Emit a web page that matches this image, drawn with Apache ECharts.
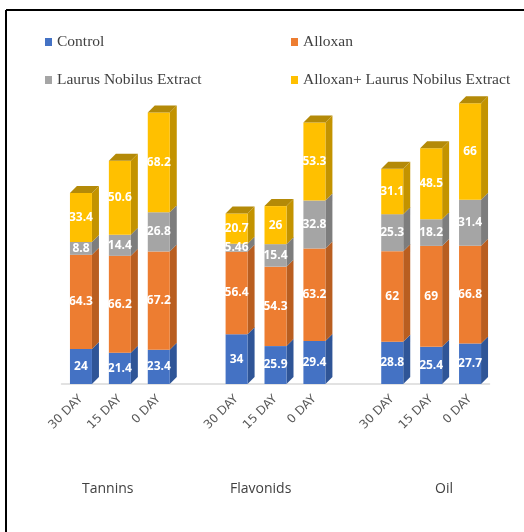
<!DOCTYPE html>
<html>
<head>
<meta charset="utf-8">
<script src="https://cdn.jsdelivr.net/npm/echarts@6/dist/echarts.min.js"></script>
<style>html,body{margin:0;padding:0;background:#fff;}#c{width:524px;height:532px;}</style>
</head>
<body>
<div id="c"></div>
<script>
// ---- data ----
var groups = ['Tannins', 'Flavonids', 'Oil'];
var days = ['30 DAY', '15 DAY', '0 DAY'];
var seriesNames = ['Control', 'Alloxan', 'Laurus Nobilus Extract', 'Alloxan+ Laurus Nobilus Extract'];
// order within each group: 30 DAY, 15 DAY, 0 DAY
var control = [24, 21.4, 23.4, 34, 25.9, 29.4, 28.8, 25.4, 27.7];
var alloxan = [64.3, 66.2, 67.2, 56.4, 54.3, 63.2, 62, 69, 66.8];
var laurus = [8.8, 14.4, 26.8, 5.46, 15.4, 32.8, 25.3, 18.2, 31.4];
var alloxanLaurus = [33.4, 50.6, 68.2, 20.7, 26, 53.3, 31.1, 48.5, 66];

// ---- styles ----
var frontColors = ['#4472C4', '#ED7D31', '#A5A5A5', '#FFC000'];
var sideColors = ['#2F5597', '#B95E20', '#7D7D7D', '#C39300'];
var topColor = '#B48A08';

// category slots: three per group, with an empty slot between groups
var cats = [];
var slotOf = [];
groups.forEach(function (g, gi) {
  days.forEach(function (d, di) {
    slotOf.push(cats.length);
    cats.push(g + '|' + d);
  });
  if (gi < groups.length - 1) cats.push('gap' + gi);
});

var allValues = [control, alloxan, laurus, alloxanLaurus];
var BAR_W = 22, D = 7;

function makeSeries(si) {
  var data = allValues[si].map(function (v, i) {
    var base = 0;
    for (var k = 0; k < si; k++) base += allValues[k][i];
    return [slotOf[i], base, base + v, v];
  });
  return {
    type: 'custom',
    name: seriesNames[si],
    itemStyle: { color: frontColors[si] },
    data: data,
    encode: { x: 0, y: [1, 2] },
    renderItem: function (params, api) {
      var c = api.value(0);
      var p0 = api.coord([c, api.value(1)]);
      var p1 = api.coord([c, api.value(2)]);
      var x = p0[0] - BAR_W / 2;
      var y0 = p0[1], y1 = p1[1];
      var children = [
        { type: 'polygon', shape: { points: [[x + BAR_W, y1], [x + BAR_W + D, y1 - D], [x + BAR_W + D, y0 - D], [x + BAR_W, y0]] },
          style: { fill: sideColors[si] } },
        { type: 'rect', shape: { x: x, y: y1, width: BAR_W, height: y0 - y1 },
          style: { fill: frontColors[si] } }
      ];
      if (si === allValues.length - 1) {
        children.push({ type: 'polygon', shape: { points: [[x, y1], [x + D, y1 - D], [x + BAR_W + D, y1 - D], [x + BAR_W, y1]] },
          style: { fill: topColor } });
      }
      children.push({ type: 'text', style: { text: String(api.value(3)), x: p0[0], y: (y0 + y1) / 2,
        align: 'center', verticalAlign: 'middle', fill: '#ffffff',
        font: 'bold 12px "Open Sans", sans-serif' }, z2: 10 });
      return { type: 'group', children: children };
    }
  };
}

var chart = echarts.init(document.getElementById('c'));
var legendText = { fontFamily: '"Liberation Serif", serif', fontSize: 15.5, color: '#404040', lineHeight: 16 };
chart.setOption({
  animation: false,
  backgroundColor: '#ffffff',
  legend: [
    { data: [seriesNames[0], seriesNames[2]], orient: 'vertical', left: 45, top: 34, padding: 0, itemWidth: 7, itemHeight: 8,
      itemGap: 22, icon: 'rect', textStyle: legendText, selectedMode: false },
    { data: [seriesNames[1], seriesNames[3]], orient: 'vertical', left: 291, top: 34, padding: 0, itemWidth: 7, itemHeight: 8,
      itemGap: 22, icon: 'rect', textStyle: legendText, selectedMode: false }
  ],
  grid: { left: 61.5, right: 34.5, top: 91.4, bottom: 148 },
  xAxis: {
    type: 'category', data: cats, offset: 6,
    axisLine: { lineStyle: { color: '#D9D9D9', width: 1.5 } },
    axisTick: { show: false },
    axisLabel: {
      interval: 0, rotate: 45, margin: 7, color: '#595959', fontSize: 12,
      fontFamily: '"DejaVu Sans", sans-serif',
      formatter: function (v) { return v.indexOf('|') >= 0 ? v.split('|')[1] : ''; }
    }
  },
  yAxis: { type: 'value', min: 0, max: 200, show: false },
  graphic: [
    { type: 'line', shape: { x1: 6, y1: 10, x2: 524, y2: 10 }, style: { stroke: '#000', lineWidth: 2 } },
    { type: 'line', shape: { x1: 6, y1: 10, x2: 6, y2: 532 }, style: { stroke: '#000', lineWidth: 2 } },
    { type: 'text', left: 82, top: 482, style: { text: groups[0], font: '14px "Open Sans", sans-serif', fill: '#404040' } },
    { type: 'text', left: 230, top: 482, style: { text: groups[1], font: '14px "Open Sans", sans-serif', fill: '#404040' } },
    { type: 'text', left: 435, top: 482, style: { text: groups[2], font: '14px "Open Sans", sans-serif', fill: '#404040' } }
  ],
  series: [0, 1, 2, 3].map(makeSeries)
});
</script>
</body>
</html>
